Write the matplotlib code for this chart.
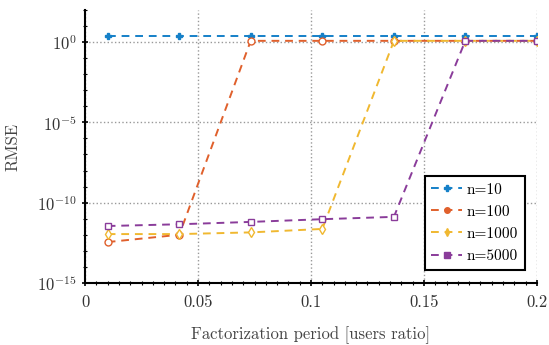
import numpy as np
import matplotlib
matplotlib.use("Agg")
import matplotlib.pyplot as plt
from matplotlib.ticker import FixedLocator, AutoMinorLocator, NullFormatter

plt.rcParams['font.family'] = 'serif'
plt.rcParams['font.serif'] = ['cmr10', 'DejaVu Serif']
plt.rcParams['mathtext.fontset'] = 'cm'
plt.rcParams['axes.unicode_minus'] = False
plt.rcParams['axes.formatter.use_mathtext'] = True

# Factorization period (users ratio)
period = [0.01, 0.0417, 0.0733, 0.105, 0.1367, 0.1683, 0.2]

rmse_n10 = [2.3, 2.3, 2.3, 2.3, 2.3, 2.3, 2.3]
rmse_n100 = [3.5e-13, 1.0e-12, 1.2, 1.2, 1.2, 1.2, 1.2]
rmse_n1000 = [1.1e-12, 1.1e-12, 1.4e-12, 2.3e-12, 1.2, 1.2, 1.2]
rmse_n5000 = [3.5e-12, 4.5e-12, 6.3e-12, 9.3e-12, 1.3e-11, 1.2, 1.2]

labels = ['n=10', 'n=100', 'n=1000', 'n=5000']
colors = ['#1580C8', '#E0602C', '#F0B830', '#8A3C9A']
markers = ['P', 'o', 'd', 's']

fig = plt.figure(figsize=(5.49, 3.45), dpi=100)
ax = fig.add_axes([0.155, 0.180, 0.823, 0.791])

for y, lab, c, m in zip([rmse_n10, rmse_n100, rmse_n1000, rmse_n5000], labels, colors, markers):
    ax.plot(period, y, linestyle=(0, (4, 3)), color=c, marker=m, markersize=5,
            markerfacecolor='white' if m != 'P' else c, markeredgewidth=1.0,
            linewidth=1.4, label=lab)

ax.set_yscale('log')
ax.set_xlim(0, 0.2)
ax.set_ylim(1e-15, 1e2)
ax.yaxis.set_major_locator(FixedLocator([1e-15, 1e-10, 1e-5, 1e0]))
ax.yaxis.set_minor_locator(FixedLocator([10.0 ** k for k in range(-15, 3)]))
ax.yaxis.set_minor_formatter(NullFormatter())
ax.set_xticks([0, 0.05, 0.1, 0.15, 0.2])
ax.set_xticklabels(['0', '0.05', '0.1', '0.15', '0.2'])
ax.xaxis.set_minor_locator(AutoMinorLocator(10))

ax.spines['top'].set_visible(False)
ax.spines['right'].set_visible(False)
ax.spines['left'].set_linewidth(1.5)
ax.spines['bottom'].set_linewidth(1.5)
ax.tick_params(direction='inout', which='both', labelsize=12, labelcolor='#333333')
ax.tick_params(which='major', length=5, width=1.2)
ax.tick_params(which='minor', length=3, width=0.8)
ax.tick_params(axis='x', pad=6)

ax.grid(True, which='major', linestyle=':', color='#999999', linewidth=1.0)

ax.set_xlabel('Factorization period [users ratio]', fontsize=12, color='#444444', labelpad=12)
ax.set_ylabel('RMSE', fontsize=12, color='#444444', labelpad=12)

leg = ax.legend(loc='lower right', fontsize=11, fancybox=False, framealpha=1,
                edgecolor='black', handlelength=2.0, borderpad=0.45,
                labelspacing=0.55, handletextpad=0.3, bbox_to_anchor=(0.99, 0.02))
leg.get_frame().set_linewidth(1.5)
for h in leg.legend_handles:
    h.set_markerfacecolor(h.get_color())
    h.set_markersize(4)

fig.savefig('out.png', dpi=100)
